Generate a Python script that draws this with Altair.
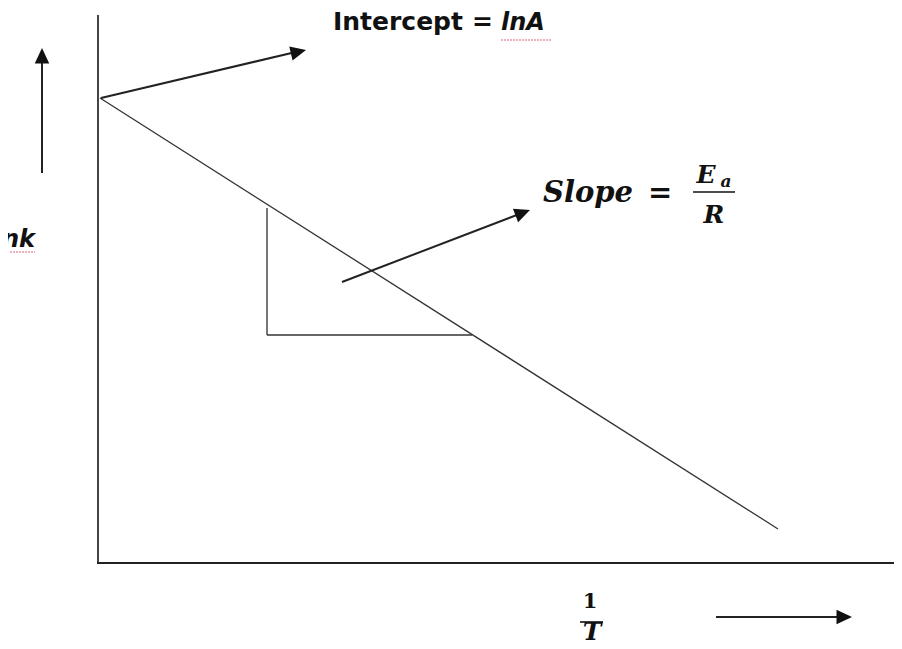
import altair as alt
import pandas as pd
import numpy as np

# ---- diagram data (arbitrary units: 1/T horizontally, ln k vertically) ----
# straight segments: axes, Arrhenius line, slope triangle, arrow shafts, fraction bars
seg_name = ["y_axis", "x_axis", "arrhenius", "tri_v", "tri_h",
            "arrow_intercept", "arrow_slope", "arrow_up", "arrow_right",
            "frac_EaR", "frac_1T"]
seg_x0 = [0.00, -0.01, 0.02, 1.69, 1.69, 0.03, 2.44, -0.56, 6.18, 5.95, 4.82]
seg_y0 = [0.00, 0.00, 4.65, 3.55, 2.28, 4.65, 2.81, 3.90, -0.54, 3.71, -0.59]
seg_x1 = [0.00, 7.96, 6.80, 1.69, 3.74, 2.02, 4.24, -0.56, 7.45, 6.37, 5.05]
seg_y1 = [5.48, 0.00, 0.34, 2.28, 2.28, 5.12, 3.50, 5.05, -0.54, 3.71, -0.59]
seg_w = [2.0, 2.2, 1.3, 1.6, 1.6, 2.0, 2.0, 2.0, 2.0, 1.6, 1.6]
seg_c = ["#444", "#222", "#333", "#555", "#333", "#222", "#222", "#222", "#222", "#111", "#111"]

# arrow heads: tip positions, and the shaft start they point away from
head_x = [2.08, 4.32, -0.56, 7.54]
head_y = [5.13, 3.53, 5.15, -0.54]
head_from_x = [0.03, 2.44, -0.56, 6.18]
head_from_y = [4.65, 2.81, 3.90, -0.54]

# annotation texts
sans_bold_text = ["Intercept", "="]
sans_bold_x = [2.35, 3.74]
sans_bold_y = [5.33, 5.33]

lnA_text = ["lnA"]
lnA_x = [4.03]
lnA_y = [5.33]

lnk_text = ["lnk"]
lnk_x = [-0.63]
lnk_y = [3.16]

slope_text = ["Slope", "="]
slope_x = [4.45, 5.50]
slope_y = [3.61, 3.61]

frac_text = ["E", "R", "T"]
frac_x = [6.08, 6.16, 4.94]
frac_y = [3.80, 3.40, -0.765]

sub_text = ["a"]
sub_x = [6.28]
sub_y = [3.76]

one_text = ["1"]
one_x = [4.92]
one_y = [-0.45]

# red spell-check underlines
red_x0 = [4.03, -0.88]
red_x1 = [4.54, -0.63]
red_y = [5.23, 3.11]

# ---- scales: 100 px per unit in both directions ----
xs = alt.Scale(domain=[-0.90, 7.96], nice=False, zero=False)
ys = alt.Scale(domain=[-0.78, 5.55], nice=False, zero=False)

segments = pd.DataFrame(dict(name=seg_name, x=seg_x0, y=seg_y0, x2=seg_x1, y2=seg_y1,
                             w=seg_w, c=seg_c))
rules = alt.Chart(segments).mark_rule(strokeCap="butt").encode(
    x=alt.X("x:Q", scale=xs, axis=None),
    y=alt.Y("y:Q", scale=ys, axis=None),
    x2="x2:Q",
    y2="y2:Q",
    strokeWidth=alt.StrokeWidth("w:Q", scale=None),
    color=alt.Color("c:N", scale=None),
)

hx = np.array(head_x)
hy = np.array(head_y)
ang = np.degrees(np.arctan2(hx - np.array(head_from_x), hy - np.array(head_from_y))) % 360
heads_df = pd.DataFrame(dict(x=hx, y=hy, angle=ang))
heads = alt.Chart(heads_df).mark_point(
    shape="M0,0L0.47,1L-0.47,1Z", filled=True, size=960, opacity=1, color="#111",
    strokeWidth=0,
).encode(
    x=alt.X("x:Q", scale=xs),
    y=alt.Y("y:Q", scale=ys),
    angle=alt.Angle("angle:Q", scale=None),
)

red_df = pd.DataFrame(dict(x=red_x0, x2=red_x1, y=red_y))
red = alt.Chart(red_df).mark_rule(color="#d04050", strokeWidth=1.2, strokeDash=[2, 1], opacity=0.8).encode(
    x=alt.X("x:Q", scale=xs), x2="x2:Q", y=alt.Y("y:Q", scale=ys)
)


def text_layer(texts, xv, yv, font, size, weight, style, align, baseline="alphabetic", color="#111"):
    df = pd.DataFrame(dict(t=texts, x=xv, y=yv))
    return alt.Chart(df).mark_text(
        font=font, fontSize=size, fontWeight=weight, fontStyle=style,
        align=align, baseline=baseline, color=color,
    ).encode(
        x=alt.X("x:Q", scale=xs), y=alt.Y("y:Q", scale=ys), text="t:N"
    )


texts = [
    text_layer(sans_bold_text, sans_bold_x, sans_bold_y, "DejaVu Sans", 25, "bold", "normal", "left"),
    text_layer(lnA_text, lnA_x, lnA_y, "DejaVu Sans", 24, "bold", "italic", "left"),
    text_layer(lnk_text, lnk_x, lnk_y, "DejaVu Sans", 24, "bold", "italic", "right"),
    text_layer(slope_text, slope_x, slope_y, "DejaVu Serif", 29, "bold", "italic", "left"),
    text_layer(frac_text, frac_x, frac_y, "DejaVu Serif", 25, "bold", "italic", "center"),
    text_layer(sub_text, sub_x, sub_y, "DejaVu Serif", 17, "bold", "italic", "center"),
    text_layer(one_text, one_x, one_y, "DejaVu Serif", 21, "bold", "normal", "center"),
]

chart = alt.layer(rules, heads, red, *texts).properties(
    width=886, height=633, padding=0,
    autosize=alt.AutoSizeParams(type="none"),
    background="white",
).configure_view(stroke=None)

chart.save("out.html", embed_options={"renderer": "svg", "actions": False})
